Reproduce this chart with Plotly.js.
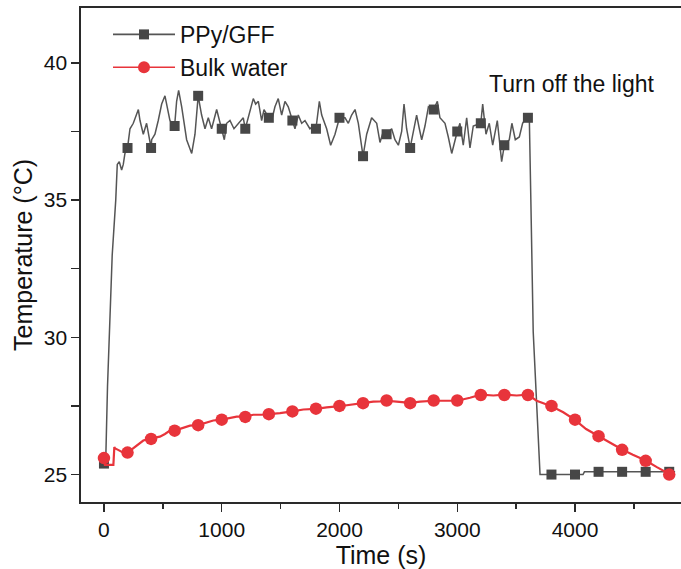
<!DOCTYPE html>
<html>
<head>
<meta charset="utf-8">
<script src="https://cdn.plot.ly/plotly-3.0.1.min.js"></script>
<style>
html,body{margin:0;padding:0;background:#fff;}
#chart{width:681px;height:569px;}
</style>
</head>
<body>
<div id="chart"></div>
<script>
// PPy/GFF dense trace (time s, temperature °C)
const tGray = [0,15,30,45,70,100,113,130,150,164,178,200,221,249,292,306,334,362,400,405,433,461,490,518,538,560,600,617,634,660,702,745,773,800,829,858,886,914,957,1000,1022,1042,1070,1104,1141,1183,1200,1240,1268,1288,1311,1339,1359,1400,1424,1452,1480,1509,1537,1565,1600,1622,1650,1679,1707,1749,1778,1800,1829,1849,1891,1925,1962,2000,2047,2075,2103,2132,2160,2200,2231,2273,2316,2344,2372,2400,2443,2471,2500,2528,2548,2570,2600,2627,2655,2678,2698,2726,2755,2800,2831,2853,2896,2924,2953,3000,3023,3051,3080,3108,3136,3200,3216,3244,3272,3301,3340,3377,3400,3442,3464,3493,3527,3555,3583,3600,3612,3625,3645,3703,3800,4000,4068,4080,4200,4400,4600,4800,4850];
const vGray = [25.4,25.5,28.2,30.2,33.0,35.0,36.3,36.4,36.1,36.3,36.7,36.9,37.6,37.8,38.3,37.9,37.4,37.8,36.9,37.2,37.4,37.9,38.5,38.8,38.4,37.9,37.7,38.6,39.0,38.4,37.2,36.7,37.4,38.8,38.1,37.6,38.0,37.6,38.3,37.6,37.2,37.8,37.9,37.6,37.8,38.0,37.6,38.3,38.7,38.5,38.6,37.9,38.3,38.0,37.9,38.4,38.7,38.1,38.6,38.4,37.9,37.6,38.1,37.8,37.9,37.6,37.7,37.6,38.6,38.1,37.6,37.0,37.4,38.0,38.0,37.8,38.1,38.3,37.8,36.6,37.4,38.0,37.8,37.1,37.5,37.4,37.6,37.2,37.0,37.5,38.5,37.6,36.9,37.5,38.1,37.6,37.2,37.7,38.4,38.3,38.6,38.0,37.8,37.3,36.7,37.5,37.8,37.0,38.0,36.9,37.7,37.8,38.5,37.4,37.8,37.0,37.9,36.4,37.0,37.2,37.8,37.2,37.3,37.8,38.0,38.0,38.0,35.0,30.2,25.0,25.0,25.0,25.0,25.1,25.1,25.1,25.1,25.1,25.1];

// Bulk water dense trace
const tRed = [0,8,60,80,88,95,120,164,200,249,292,334,400,475,518,560,600,674,730,800,872,928,1000,1070,1127,1200,1268,1339,1400,1495,1600,1693,1800,1891,2000,2089,2200,2287,2344,2400,2485,2600,2684,2800,2910,3000,3108,3200,3307,3400,3505,3600,3674,3800,3900,4000,4094,4200,4294,4400,4491,4600,4695,4800,4849];
const vRed = [25.6,25.35,25.35,25.35,26.0,25.95,25.9,25.8,25.8,25.97,26.12,26.24,26.32,26.38,26.48,26.6,26.6,26.7,26.78,26.8,26.9,26.97,27.0,27.06,27.11,27.11,27.18,27.18,27.2,27.24,27.3,27.37,27.39,27.45,27.49,27.55,27.61,27.66,27.67,27.69,27.66,27.61,27.66,27.69,27.69,27.69,27.8,27.91,27.88,27.91,27.88,27.91,27.69,27.49,27.27,26.99,26.66,26.4,26.15,25.91,25.72,25.51,25.27,25.02,25.0];

// Symbol markers every 200 s
const tMark = [0,200,400,600,800,1000,1200,1400,1600,1800,2000,2200,2400,2600,2800,3000,3200,3400,3600,3800,4000,4200,4400,4600,4800];
const vGrayMark = [25.4,36.9,36.9,37.7,38.8,37.6,37.6,38.0,37.9,37.6,38.0,36.6,37.4,36.9,38.3,37.5,37.8,37.0,38.0,25.0,25.0,25.1,25.1,25.1,25.1];
const vRedMark = [25.6,25.8,26.3,26.6,26.8,27.0,27.1,27.2,27.3,27.4,27.5,27.6,27.7,27.6,27.7,27.7,27.9,27.9,27.9,27.5,27.0,26.4,25.9,25.5,25.0];

const seriesNames = ["PPy/GFF", "Bulk water"];
const xTickVals = [0,1000,2000,3000,4000];
const yTickVals = [25,30,35,40];

const GRAY_LINE = "#555555", GRAY_MK = "#474747";
const RED = "#e8343b";
const FONT = "Arial, 'Liberation Sans', sans-serif";

const traces = [
  {x:[null], y:[null], name:seriesNames[0], mode:"lines+markers",
   line:{color:GRAY_LINE, width:1.6}, marker:{symbol:"square", size:10, color:GRAY_MK}, hoverinfo:"skip"},
  {x:[null], y:[null], name:seriesNames[1], mode:"lines+markers",
   line:{color:RED, width:1.6}, marker:{symbol:"circle", size:12, color:RED}, hoverinfo:"skip"},
  {x:tGray, y:vGray, mode:"lines", showlegend:false, line:{color:GRAY_LINE, width:1.5}},
  {x:tMark, y:vGrayMark, mode:"markers", showlegend:false, marker:{symbol:"square", size:10, color:GRAY_MK}},
  {x:tRed, y:vRed, mode:"lines", showlegend:false, line:{color:RED, width:2.2}},
  {x:tMark, y:vRedMark, mode:"markers", showlegend:false, marker:{symbol:"circle", size:12.5, color:RED}}
];

const layout = {
  width:681, height:569,
  margin:{l:81, r:0, t:8, b:67},
  paper_bgcolor:"#fff", plot_bgcolor:"#fff",
  font:{family:FONT, color:"#111"},
  showlegend:true,
  legend:{x:0.045, y:0.99, xanchor:"left", yanchor:"top", bgcolor:"rgba(0,0,0,0)",
          font:{size:23, family:FONT, color:"#111"}, itemwidth:62, tracegroupgap:0},
  xaxis:{range:[-195,4900], showgrid:false, zeroline:false,
         showline:true, linecolor:"#2a2a2a", linewidth:1.6, mirror:true,
         ticks:"outside", ticklen:8, tickwidth:1.5, tickcolor:"#2a2a2a",
         tickvals:xTickVals, ticktext:xTickVals.map(String),
         minor:{dtick:500, tick0:0, ticks:"outside", ticklen:5, tickwidth:1.5, tickcolor:"#2a2a2a", showgrid:false},
         tickfont:{size:21, family:FONT, color:"#111"},
         title:{text:"Time (s)", font:{size:25, family:FONT, color:"#111"}, standoff:5}},
  yaxis:{range:[24,42], showgrid:false, zeroline:false,
         showline:true, linecolor:"#2a2a2a", linewidth:1.6, mirror:false,
         ticks:"outside", ticklen:8, tickwidth:1.5, tickcolor:"#2a2a2a",
         tickvals:yTickVals, ticktext:yTickVals.map(String),
         minor:{dtick:2.5, tick0:25, ticks:"outside", ticklen:8, tickwidth:1.5, tickcolor:"#2a2a2a", showgrid:false},
         tickfont:{size:21, family:FONT, color:"#111"},
         title:{text:"Temperature (°C)", font:{size:25, family:FONT, color:"#111"}, standoff:4}},
  annotations:[{xref:"paper", yref:"paper", x:0.818, y:0.846, xanchor:"center", yanchor:"middle",
                text:"Turn off the light", showarrow:false, font:{size:23, family:FONT, color:"#111"}}]
};

Plotly.newPlot("chart", traces, layout, {staticPlot:true, displayModeBar:false});
</script>
</body>
</html>
